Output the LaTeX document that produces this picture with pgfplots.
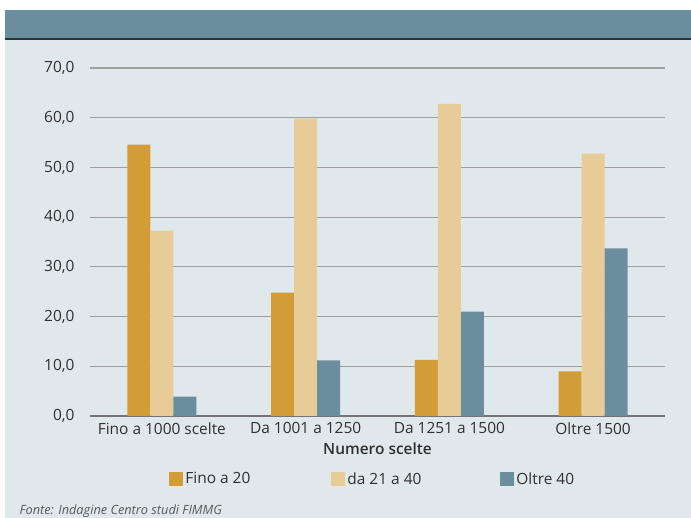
\documentclass[border=0pt]{standalone}
\usepackage{pgfplots}
\pgfplotsset{compat=1.18}
\usepackage{fontspec}
\setmainfont{Open Sans}
\newfontfamily\semibold{Open Sans Semibold}
\definecolor{cgold}{HTML}{D29D37}
\definecolor{clight}{HTML}{E8CC98}
\definecolor{cblue}{HTML}{6B8E9E}
\definecolor{cpanel}{HTML}{E1E8EC}
\definecolor{ctext}{HTML}{303030}
\begin{document}
\begin{tikzpicture}[x=1bp,y=1bp,font=\fontsize{15.5}{18}\selectfont]
\path[use as bounding box] (0,0) rectangle (691,518);
\fill[white] (0,0) rectangle (691,518);
\fill[cpanel] (5,0) rectangle (691,479);
\fill[cblue] (5,479) rectangle (691,508);
\draw[line width=2bp, black!80] (5,479) -- (691,479);
\begin{axis}[
  at={(90bp,102bp)}, anchor=south west,
  scale only axis, width=575bp, height=348bp,
  xmin=-0.5, xmax=3.5, ymin=0, ymax=70,
  axis x line*=bottom, axis y line*=left,
  y axis line style={draw=none},
  x axis line style={draw=black!55, line width=1.4bp},
  major tick length=0pt,
  xtick={0,1,2,3},
  xticklabels={Fino a 1000 scelte, Da 1001 a 1250, Da 1251 a 1500, Oltre 1500},
  ytick={0,10,...,70},
  ymajorgrids, grid style={draw=black!38, line width=1.2bp},
  /pgf/number format/assume math mode=true,
  yticklabel style={/pgf/number format/.cd, fixed, fixed zerofill, precision=1, use comma, /tikz/.cd, xshift=-12bp, text=ctext},
  xticklabel style={text=ctext, yshift=-3bp},
  xlabel={\semibold Numero scelte},
  xlabel style={text=ctext, yshift=-2bp},
  ybar=0pt, bar width=23bp,
  legend columns=3,
  legend style={at={(0.499,-0.181)}, anchor=center, draw=none, fill=none,
    /tikz/every even column/.append style={column sep=0bp},
    nodes={text=ctext, inner sep=2.5bp}},
  legend image code/.code={\fill[#1] (0bp,-7bp) rectangle (14bp,7bp);},
]
\addplot[fill=cgold, draw=none] coordinates {(0,54.6) (1,24.8) (2,11.3) (3,9.0)};
\addplot[fill=clight, draw=none] coordinates {(0,37.3) (1,59.8) (2,62.8) (3,52.8)};
\addplot[fill=cblue, draw=none] coordinates {(0,3.9) (1,11.2) (2,21.0) (3,33.7)};
\legend{\makebox[143bp][l]{Fino a 20}, \makebox[150bp][l]{da 21 a 40}, \makebox[66bp][l]{Oltre 40}}
\end{axis}
\node[anchor=base west, font=\itshape\fontsize{12.8}{15}\selectfont, text=black!65] at (16,3.5) {Fonte: Indagine Centro studi FIMMG};
\end{tikzpicture}
\end{document}
